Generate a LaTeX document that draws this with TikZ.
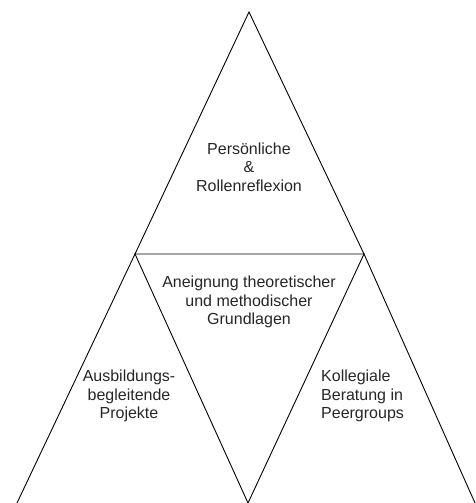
\documentclass[tikz,border=0pt]{standalone}
\usepackage{fontspec}
\setmainfont{Liberation Sans}
\tikzset{
  edge/.style={draw=black, line width=0.9pt},
  lbl/.style={font=\fontsize{16}{18.5}\selectfont, text=black!85, inner sep=0pt},
}
\begin{document}
\begin{tikzpicture}[x=1pt,y=1pt]
\useasboundingbox (0,0) rectangle (476,503);
\coordinate (A) at (249,491);
\coordinate (B) at (135,249);
\coordinate (C) at (364,249);
\coordinate (D) at (17,0);
\coordinate (E) at (248,0);
\coordinate (F) at (475,0);
\draw[edge] (B) -- (A) -- (C) -- cycle;
\draw[edge] (D) -- (B) -- (E) -- (C) -- (F);
\node[lbl, align=center] (top) at (249,336) {Persönliche\\\&\\Rollenreflexion};
\node[lbl, align=center] (mid) at (249,201) {Aneignung theoretischer\\und methodischer\\Grundlagen};
\node[lbl, align=center] (left) at (129,107) {Ausbildungs-\\begleitende\\Projekte};
\node[lbl, align=left, anchor=west] (right) at (321,107) {Kollegiale\\Beratung in\\Peergroups};
\end{tikzpicture}
\end{document}
